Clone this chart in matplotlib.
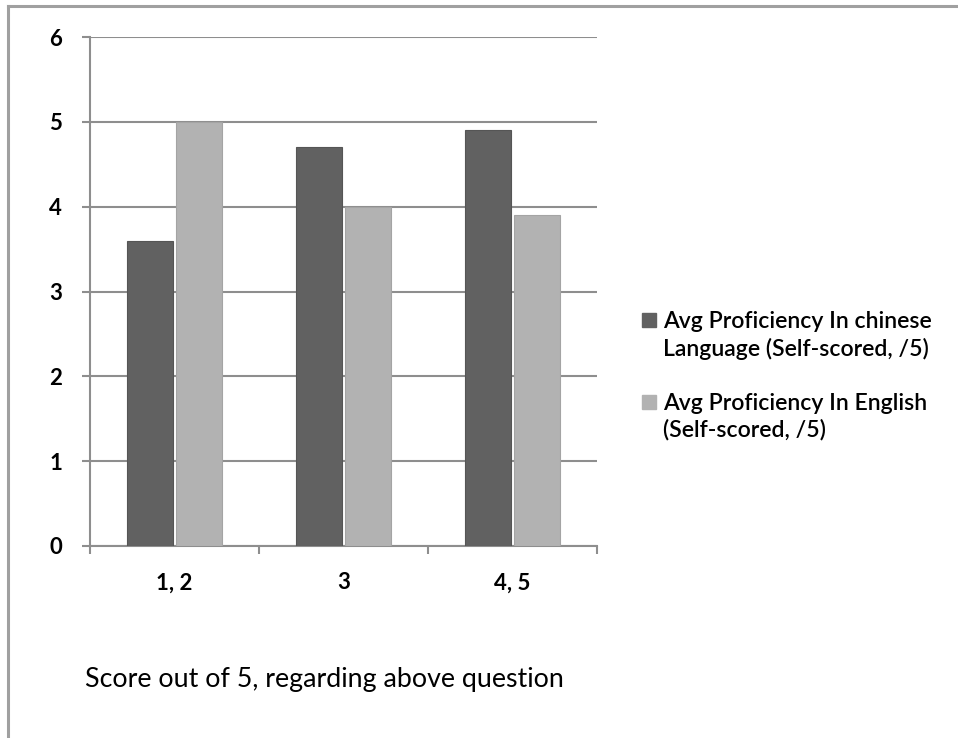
import matplotlib
matplotlib.use("Agg")
import matplotlib.pyplot as plt
from matplotlib.lines import Line2D
from matplotlib.patches import Rectangle
import numpy as np

categories = ["1, 2", "3", "4, 5"]
chinese = [3.6, 4.7, 4.9]
english = [5.0, 4.0, 3.9]
series_labels = ["Avg Proficiency In chinese\nLanguage (Self-scored, /5)",
                 "Avg Proficiency In English\n(Self-scored, /5)"]
y_ticks = [0, 1, 2, 3, 4, 5, 6]
x_title = "Score out of 5, regarding above question"

plt.rcParams['font.family'] = ['Lato', 'DejaVu Sans']

dark = "#616161"
light = "#b2b2b2"
grid_c = "#8e8e8e"
W, H = 958, 738

fig = plt.figure(figsize=(W / 100, H / 100), dpi=100)
ax = fig.add_axes([90 / W, 1 - 546 / H, (597 - 90) / W, (546 - 37) / H])

x = np.arange(len(categories))
w = 0.28
gap = 0.006
ax.bar(x - w / 2 - gap / 2, chinese, width=w - gap, color=dark,
       edgecolor="#555555", linewidth=0.8, zorder=3)
ax.bar(x + w / 2 + gap / 2, english, width=w - gap, color=light,
       edgecolor="#a4a4a4", linewidth=0.8, zorder=3)

ax.set_xlim(-0.5, 2.5)
ax.set_ylim(0, 6)
ax.set_yticks(y_ticks)
ax.set_yticklabels([str(t) for t in y_ticks], fontsize=16, fontweight="bold")
ax.yaxis.grid(True, color=grid_c, linewidth=1.5, zorder=0)
ax.set_axisbelow(True)

ax.set_xticks([-0.5, 0.5, 1.5, 2.5])
ax.set_xticklabels([])
ax.set_xticks(x, minor=True)
ax.set_xticklabels(categories, minor=True, fontsize=16, fontweight="bold")
ax.tick_params(axis="x", which="minor", length=0, pad=19)
ax.tick_params(axis="x", which="major", length=6, width=1.5, color=grid_c,
               direction="out")
ax.tick_params(axis="y", length=6, width=1.5, color=grid_c, pad=14,
               direction="out")

for s in ["top", "right"]:
    ax.spines[s].set_visible(False)
for s in ["left", "bottom"]:
    ax.spines[s].set_color(grid_c)
    ax.spines[s].set_linewidth(1.5)

# legend: swatch plus two-line label per series
legend_rows = [(320, 335.5, dark), (402, 417, light)]
for (sq_y, txt_y, col), lab in zip(legend_rows, series_labels):
    fig.add_artist(Rectangle((642 / W, 1 - (sq_y + 7) / H), 14 / W, 14 / H,
                             facecolor=col, edgecolor=col,
                             transform=fig.transFigure))
    fig.text(663 / W, 1 - txt_y / H, lab, fontsize=16.6, fontweight="semibold",
             ha="left", va="center", linespacing=1.28)

fig.text(85 / W, 1 - 680 / H, x_title, fontsize=19.3, ha="left", va="center")

# outer frame (top and left edges)
fig.add_artist(Line2D([8 / W, 1.0], [1 - 6 / H, 1 - 6 / H],
                      color="#a0a0a0", linewidth=2.2, transform=fig.transFigure))
fig.add_artist(Line2D([8 / W, 8 / W], [0, 1 - 6 / H],
                      color="#a0a0a0", linewidth=2.2, transform=fig.transFigure))

fig.savefig("out.png", dpi=100, facecolor="white")
